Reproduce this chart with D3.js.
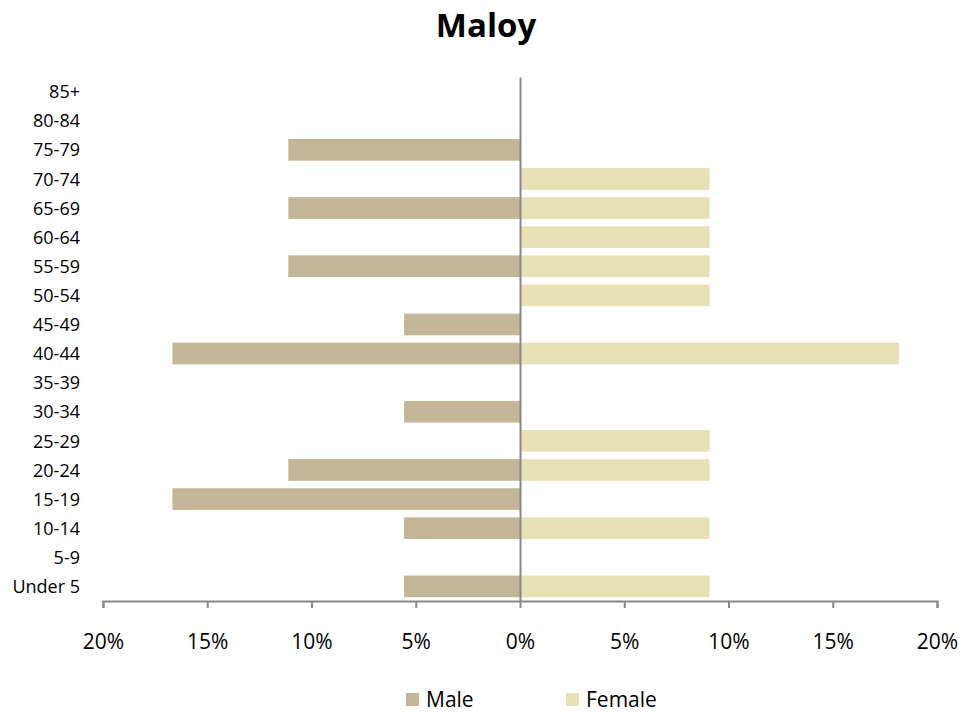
<!DOCTYPE html>
<html>
<head>
<meta charset="utf-8">
<script src="https://cdn.jsdelivr.net/npm/d3@7"></script>
<style>
  body { margin: 0; background: #fff; }
  text { font-family: "Open Sans", sans-serif; fill: #000; }
</style>
</head>
<body>
<div id="chart"></div>
<script>
// Population pyramid for Maloy

const width = 979;
const height = 713;
const margin = {left:103, right:42, top:77, bottom:112};

// age groups, bottom to top
const ageGroups = ["Under 5","5-9","10-14","15-19","20-24","25-29","30-34","35-39","40-44",
                   "45-49","50-54","55-59","60-64","65-69","70-74","75-79","80-84","85+"];
// percent of population
const male   = [5.56, 0, 5.56, 16.67, 11.11, 0, 5.56, 0, 16.67, 5.56, 0, 11.11, 0, 11.11, 0, 11.11, 0, 0];
const female = [9.09, 0, 9.09, 0, 9.09, 9.09, 0, 0, 18.18, 0, 9.09, 9.09, 9.09, 9.09, 9.09, 0, 0, 0];
const xTicks = [-20, -15, -10, -5, 0, 5, 10, 15, 20];
const seriesNames = ["Male", "Female"];
const colors = ["#c4b797", "#e8e1b6"];

const svg = d3.select("#chart")
  .append("svg")
  .attr("width", width)
  .attr("height", height);

// title
svg.append("text")
   .attr("x", 486)
   .attr("y", 37)
   .attr("text-anchor", "middle")
   .attr("font-size", "33px")
   .attr("font-weight", "bold")
   .text("Maloy");

// scales
let xScale = d3.scaleLinear()
  .domain([-20, 20])
  .range([margin.left, width - margin.right]);

let yScale = d3.scaleBand()
  .domain(ageGroups)
  .range([height - margin.bottom, margin.top])
  .paddingInner(0.255)
  .paddingOuter(0.13);

// bars
svg.selectAll(".male")
   .data(ageGroups)
   .enter()
   .append("rect")
     .attr("class", "male")
     .attr("x", (d,i) => xScale(-male[i]))
     .attr("y", d => yScale(d))
     .attr("width", (d,i) => xScale(0) - xScale(-male[i]))
     .attr("height", yScale.bandwidth())
     .attr("fill", colors[0]);

svg.selectAll(".female")
   .data(ageGroups)
   .enter()
   .append("rect")
     .attr("class", "female")
     .attr("x", xScale(0))
     .attr("y", d => yScale(d))
     .attr("width", (d,i) => xScale(female[i]) - xScale(0))
     .attr("height", yScale.bandwidth())
     .attr("fill", colors[1]);

// x axis
const xAxis = svg.append("g")
   .attr("transform", `translate(0,${height - margin.bottom})`)
   .call(d3.axisBottom(xScale)
           .tickValues(xTicks)
           .tickSize(7)
           .tickPadding(26)
           .tickFormat(d => Math.abs(d) + "%"));
xAxis.select(".domain").attr("stroke", "#878787").attr("stroke-width", 2);
xAxis.selectAll(".tick line").attr("stroke", "#878787").attr("stroke-width", 2);
xAxis.selectAll("text")
     .attr("font-size", "21px")
     .attr("font-family", "Open Sans, sans-serif")
     .attr("fill", "#000");

// y axis at zero
const yAxis = svg.append("g")
   .attr("transform", `translate(${xScale(0)},0)`)
   .call(d3.axisLeft(yScale).tickSize(0).tickFormat(""));
yAxis.select(".domain").attr("stroke", "#878787").attr("stroke-width", 2);

// category labels on the left
svg.selectAll(".agelabel")
   .data(ageGroups)
   .enter()
   .append("text")
     .attr("class", "agelabel")
     .attr("x", 80)
     .attr("y", d => yScale(d) + yScale.bandwidth() / 2)
     .attr("dy", "0.37em")
     .attr("text-anchor", "end")
     .attr("font-size", "18px")
     .text(d => d);

// legend
const legendX = [406, 566];
const legend = svg.selectAll(".legend")
   .data(seriesNames)
   .enter()
   .append("g")
     .attr("class", "legend")
     .attr("transform", (d,i) => `translate(${legendX[i]}, 693)`);

legend.append("rect")
   .attr("width", 13)
   .attr("height", 13)
   .attr("fill", (d,i) => colors[i]);

legend.append("text")
   .attr("x", 20)
   .attr("y", 14)
   .attr("font-size", "21px")
   .text(d => d);
</script>
</body>
</html>
